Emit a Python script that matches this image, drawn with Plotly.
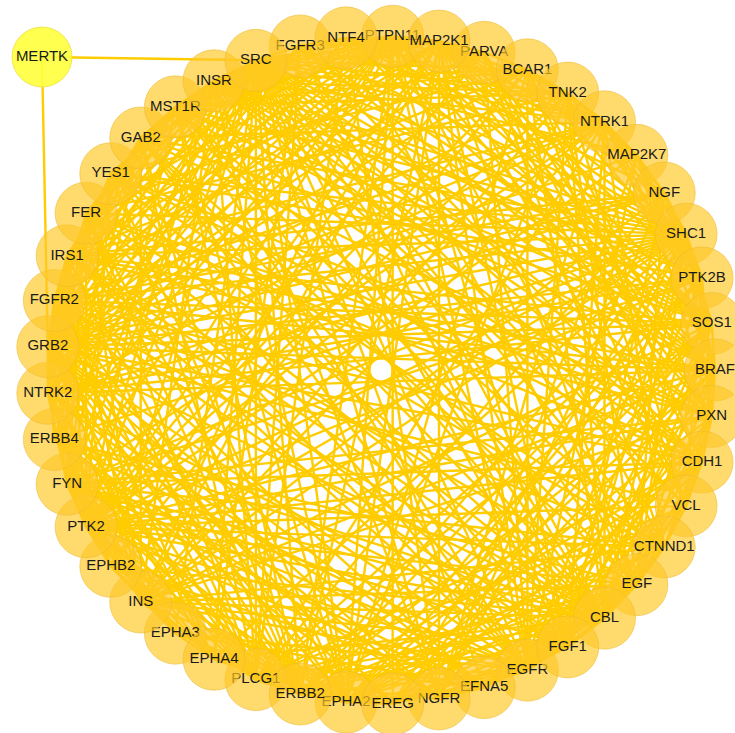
import math
import plotly.graph_objects as go

# ---- data ----
ring_nodes = ["PTPN11", "MAP2K1", "PARVA", "BCAR1", "TNK2", "NTRK1", "MAP2K7", "NGF",
              "SHC1", "PTK2B", "SOS1", "BRAF", "PXN", "CDH1", "VCL", "CTNND1", "EGF",
              "CBL", "FGF1", "EGFR", "EFNA5", "NGFR", "EREG", "EPHA2", "ERBB2", "PLCG1",
              "EPHA4", "EPHA3", "INS", "EPHB2", "PTK2", "FYN", "ERBB4", "NTRK2", "GRB2",
              "FGFR2", "IRS1", "FER", "YES1", "GAB2", "MST1R", "INSR", "SRC", "FGFR3", "NTF4"]
hub_node = "MERTK"
hub_neighbors = ["SRC", "GRB2"]

adjacency = {
    "SRC": "PTK2 PTK2B BCAR1 PXN EGFR ERBB2 CBL SHC1 GRB2 CDH1 CTNND1 VCL PLCG1 EPHA2 EPHB2 INSR IRS1 TNK2 FGFR3 FGFR2 NTRK1 NTRK2 GAB2 MST1R SOS1 BRAF MAP2K1 PTPN11 ERBB4 EGF FER FYN YES1 PARVA",
    "FYN": "PTK2 PTK2B PXN CBL SHC1 GRB2 EPHA4 EPHB2 EPHA2 NTRK2 NTRK1 PLCG1 CTNND1 CDH1 EGFR ERBB2 INSR IRS1 FER GAB2 PTPN11 EFNA5 YES1",
    "YES1": "EGFR ERBB2 CDH1 CTNND1 PTK2 CBL PXN EPHA2 INSR GRB2 SHC1 PTPN11 PTK2B BCAR1 FGFR2",
    "EGFR": "EGF EREG ERBB2 ERBB4 GRB2 SHC1 SOS1 CBL PLCG1 PTPN11 GAB2 PTK2 PTK2B CDH1 CTNND1 TNK2 BRAF MAP2K1 INS IRS1 PXN BCAR1 EPHA2 MST1R FER NGFR VCL",
    "ERBB2": "EGF EREG ERBB4 GRB2 SHC1 SOS1 CBL PLCG1 PTPN11 GAB2 PTK2 CDH1 CTNND1 MAP2K1 BRAF IRS1 PTK2B FGFR2 EPHA2 MST1R",
    "ERBB4": "EREG EGF GRB2 SHC1 PLCG1 CBL PTPN11 GAB2 NGFR",
    "GRB2": "SOS1 SHC1 GAB2 CBL IRS1 PTPN11 PTK2 PTK2B BCAR1 INSR FGFR2 FGFR3 NTRK1 NTRK2 MST1R EPHB2 EPHA2 PLCG1 TNK2 BRAF MAP2K1 CDH1 NGF FER",
    "SHC1": "SOS1 GAB2 CBL PTPN11 INSR IRS1 NTRK1 NTRK2 FGFR2 FGFR3 MST1R PTK2 PTK2B EPHB2 EGF MAP2K1 BRAF NGF FGF1 PXN",
    "SOS1": "MAP2K1 BRAF PTPN11 IRS1 INSR NTRK1 NTRK2 FGFR2 FGFR3 GAB2 EGF CBL EPHA2 PLCG1 NGF INS FGF1 MAP2K7",
    "CBL": "PTK2 PXN BCAR1 INSR FGFR2 FGFR3 NTRK1 MST1R EPHA2 EPHB2 PLCG1 GAB2 TNK2 FER EGF IRS1 CTNND1 CDH1 PTK2B",
    "PLCG1": "FGFR2 FGFR3 NTRK1 NTRK2 INSR PTK2 PTK2B GAB2 EPHA2 EGF NGF FGF1 IRS1 CDH1 VCL",
    "PTPN11": "GAB2 IRS1 INSR PTK2 FGFR2 FGFR3 MST1R EPHA2 NTRK1 NTRK2 BRAF MAP2K1 PXN CTNND1 EGF INS",
    "GAB2": "MST1R INSR IRS1 FGFR2 NTRK1 PXN EGF",
    "PTK2": "PXN BCAR1 VCL PTK2B PARVA CDH1 CTNND1 EPHA2 EPHB2 INSR IRS1 FGFR2 NTRK1 MST1R MAP2K1 BRAF TNK2 EGF MAP2K7 FER",
    "PTK2B": "PXN BCAR1 VCL NTRK1 NTRK2 MAP2K1 MAP2K7 TNK2 INSR EPHA2 NGF",
    "PXN": "VCL BCAR1 PARVA CDH1 CTNND1 MAP2K1 MAP2K7 BRAF INSR IRS1 EPHA2 FER",
    "BCAR1": "VCL TNK2 PARVA EPHA2 EPHB2 NTRK1 INSR IRS1 MAP2K7 CDH1 MST1R",
    "VCL": "PARVA CDH1 CTNND1 EPHA2 MAP2K1 TNK2 INSR GRB2 BRAF",
    "CDH1": "CTNND1 EGF EREG FGFR2 FGFR3 EPHA2 INSR PARVA FER",
    "CTNND1": "FER EPHA2 FGFR2 NTRK1 MST1R INS EGF",
    "INSR": "INS IRS1 FGFR2 NTRK1 MST1R EPHA2 MAP2K1 BRAF FER TNK2 NGFR",
    "IRS1": "INS FGFR2 FGFR3 NTRK1 NTRK2 MAP2K1 BRAF EGF FGF1 NGF MST1R",
    "FGFR2": "FGF1 FGFR3 NTRK1 NTRK2 MAP2K1 BRAF EPHA2 EPHA4 EFNA5 NGF",
    "FGFR3": "FGF1 NTRK1 NTRK2 MAP2K1 BRAF EPHA4 NTF4",
    "NTRK1": "NGF NGFR NTF4 NTRK2 MAP2K1 BRAF MAP2K7 TNK2 FGF1 INS",
    "NTRK2": "NTF4 NGF NGFR MAP2K1 BRAF EPHA4 EFNA5 FGF1",
    "NGF": "NGFR NTF4 MAP2K7 MAP2K1 BRAF EGF INS FGF1",
    "NGFR": "NTF4 MAP2K7 MAP2K1 EGF EFNA5 SHC1 GRB2 PLCG1 SRC",
    "NTF4": "MAP2K1 BRAF EGF SHC1 GRB2 SOS1 PLCG1",
    "MAP2K1": "BRAF MAP2K7 EGF FGF1 INS TNK2 PARVA",
    "MAP2K7": "SRC EGFR GRB2",
    "BRAF": "MAP2K7 EGF FGF1 INS EREG",
    "EGF": "EREG FGF1 INS TNK2 EFNA5 EPHA2",
    "EREG": "FGF1 INS EPHA2 SHC1 SOS1 GRB2 PTPN11 CBL",
    "FGF1": "INS EFNA5 GAB2 PTPN11 CBL SRC FYN",
    "INS": "FGFR2 NTRK2 PXN SHC1 GAB2 CBL PLCG1",
    "PARVA": "CTNND1 EGFR GRB2",
    "TNK2": "EGF INS FER",
    "EPHA2": "EFNA5 EPHA3 EPHA4 EPHB2 TNK2 MAP2K1 BRAF",
    "EPHA3": "EFNA5 EPHA4 EPHB2 SRC FYN GRB2 PTK2 EGFR",
    "EPHA4": "EFNA5 EPHB2 SRC GRB2 SHC1 PTK2 CBL",
    "EFNA5": "SRC GRB2 PTK2 PXN",
    "EPHB2": "EFNA5 MAP2K1 NTRK2",
    "MST1R": "MAP2K1 BRAF EGF TNK2 FER EPHA2 CDH1 IRS1 SOS1",
    "FER": "PARVA INS SHC1 PLCG1 PTPN11 ERBB2 EPHA2",
}

# nodes whose labels are partly covered by neighbours are drawn first
drawn_first = ["FGFR3", "PTPN11", "PARVA", "EPHA3", "PLCG1", "EPHA2", "EGFR", "EFNA5"]

# ---- layout ----
W, H = 735, 733
cx, cy, R = 381, 370, 334
start_deg, step_deg = 2.0, 360.0 / len(ring_nodes)
pos = {}
for i, n in enumerate(ring_nodes):
    a = math.radians(start_deg + step_deg * i)
    pos[n] = (cx + R * math.sin(a), cy - R * math.cos(a))
pos[hub_node] = (42, 57)

edges = set()
for a, nb in adjacency.items():
    for b in nb.split():
        if a != b:
            edges.add(tuple(sorted((a, b))))
for b in hub_neighbors:
    edges.add(tuple(sorted((hub_node, b))))

ex, ey = [], []
for a, b in sorted(edges):
    ex += [pos[a][0], pos[b][0], None]
    ey += [pos[a][1], pos[b][1], None]

fig = go.Figure()
fig.add_trace(go.Scatter(x=ex, y=ey, mode="lines",
                         line=dict(color="#FFCC00", width=2.4),
                         hoverinfo="skip", showlegend=False))

order = drawn_first + [n for n in ring_nodes if n not in drawn_first]
font = dict(family="Arial, Liberation Sans, sans-serif", size=15, color="#1a1a1a")
for n in order:
    fig.add_trace(go.Scatter(
        x=[pos[n][0]], y=[pos[n][1]], mode="markers+text", text=[n],
        textposition="middle center", textfont=font,
        marker=dict(size=62, color="rgba(255,200,40,0.68)",
                    line=dict(color="rgba(235,185,50,0.55)", width=1)),
        hoverinfo="skip", showlegend=False))

fig.add_trace(go.Scatter(
    x=[pos[hub_node][0]], y=[pos[hub_node][1]], mode="markers+text", text=[hub_node],
    textposition="middle center", textfont=font,
    marker=dict(size=60, color="rgba(255,255,64,0.92)",
                line=dict(color="rgba(235,220,60,0.7)", width=1)),
    hoverinfo="skip", showlegend=False))

fig.update_layout(
    width=W, height=H, margin=dict(l=0, r=0, t=0, b=0),
    paper_bgcolor="white", plot_bgcolor="white",
    xaxis=dict(range=[0, W], visible=False, fixedrange=True),
    yaxis=dict(range=[H, 0], visible=False, fixedrange=True),
)
fig.write_html("out.html")
